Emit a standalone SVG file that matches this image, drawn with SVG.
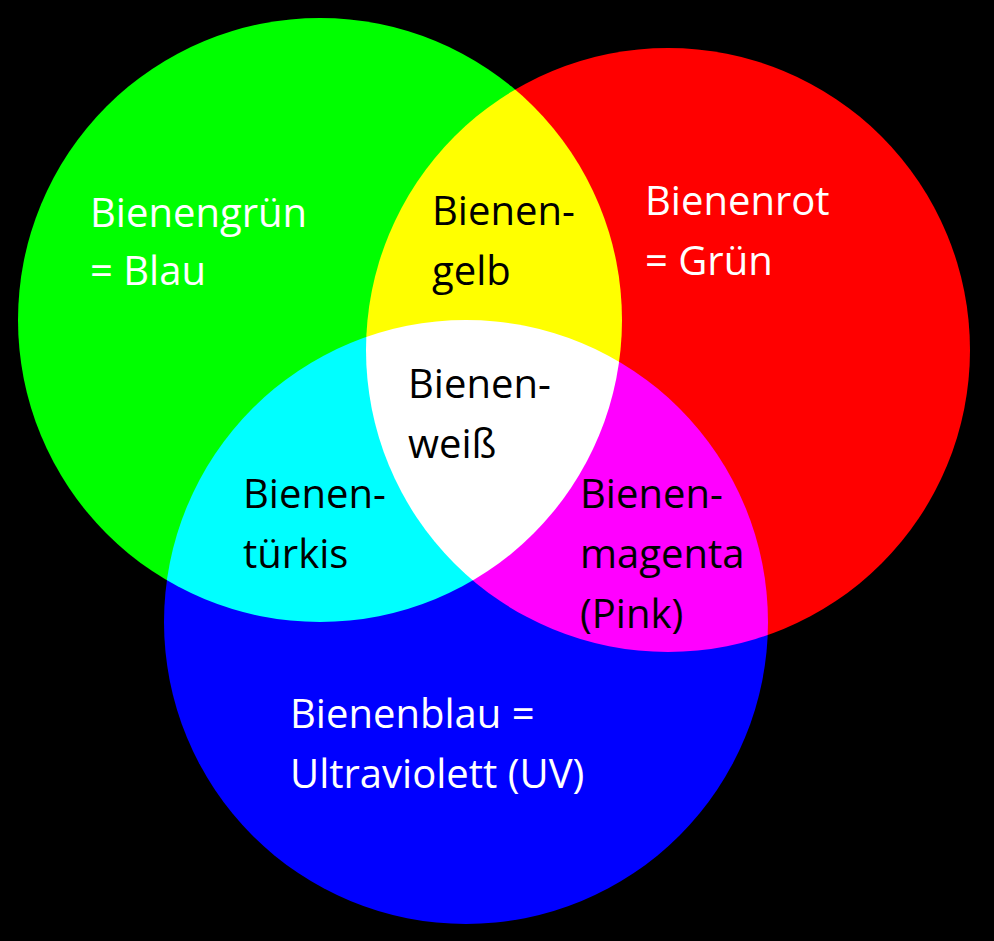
<svg xmlns="http://www.w3.org/2000/svg" width="994" height="941" viewBox="0 0 994 941">
<style>
.c{mix-blend-mode:screen}
text{font-family:"Open Sans","Liberation Sans",sans-serif;font-size:40px}
.w{fill:#fff}.k{fill:#000}
</style>
<rect width="994" height="941" fill="#000"/>
<g id="circles" style="isolation:isolate">
<rect width="994" height="941" fill="#000"/>
<circle id="green" class="c" cx="320" cy="320" r="302" fill="#00ff00"/>
<circle id="red" class="c" cx="668" cy="350" r="302" fill="#ff0000"/>
<circle id="blue" class="c" cx="466" cy="622" r="302" fill="#0000ff"/>
</g>
<g id="labels">
<text class="w" x="90" y="227">Bienengrün</text>
<text class="w" x="90" y="285">= Blau</text>
<text class="k" x="432" y="225">Bienen-</text>
<text class="k" x="432" y="285">gelb</text>
<text class="w" x="645" y="215">Bienenrot</text>
<text class="w" x="645" y="275">= Grün</text>
<text class="k" x="408" y="398">Bienen-</text>
<text class="k" x="408" y="458">weiß</text>
<text class="k" x="243" y="508">Bienen-</text>
<text class="k" x="243" y="568">türkis</text>
<text class="k" x="580" y="508">Bienen-</text>
<text class="k" x="580" y="568">magenta</text>
<text class="k" x="580" y="628">(Pink)</text>
<text class="w" x="290" y="728">Bienenblau =</text>
<text class="w" x="290" y="788">Ultraviolett (UV)</text>
</g>
</svg>
